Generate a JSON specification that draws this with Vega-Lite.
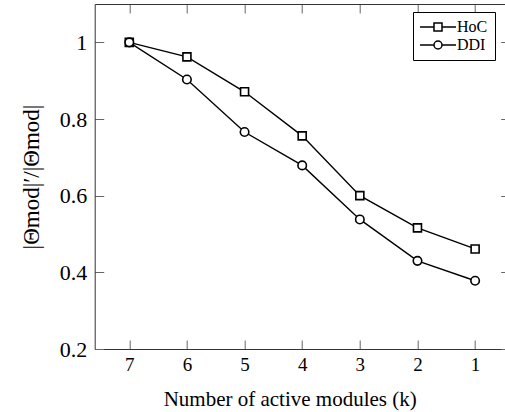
{
  "$schema": "https://vega.github.io/schema/vega-lite/v6.json",
  "autosize": "none",
  "width": 415,
  "height": 345,
  "padding": {"left": 94.7, "top": 4, "right": -4.7, "bottom": 63},
  "config": {
    "font": "Liberation Serif",
    "view": {"stroke": null},
    "axis": {"grid": false, "domainColor": "#333", "domainWidth": 1, "tickColor": "#666", "tickWidth": 1, "labelColor": "black", "titleColor": "black", "titleFontWeight": "normal", "labelFont": "Liberation Serif", "titleFont": "Liberation Serif"},
    "legend": {"labelFont": "Liberation Serif"}
  },
  "data": {
    "values": [
      {"series": "HoC", "k": 7, "ratio": 1.0},
      {"series": "HoC", "k": 6, "ratio": 0.962},
      {"series": "HoC", "k": 5, "ratio": 0.871},
      {"series": "HoC", "k": 4, "ratio": 0.756},
      {"series": "HoC", "k": 3, "ratio": 0.600},
      {"series": "HoC", "k": 2, "ratio": 0.516},
      {"series": "HoC", "k": 1, "ratio": 0.461},
      {"series": "DDI", "k": 7, "ratio": 1.0},
      {"series": "DDI", "k": 6, "ratio": 0.903},
      {"series": "DDI", "k": 5, "ratio": 0.766},
      {"series": "DDI", "k": 4, "ratio": 0.679},
      {"series": "DDI", "k": 3, "ratio": 0.538},
      {"series": "DDI", "k": 2, "ratio": 0.430},
      {"series": "DDI", "k": 1, "ratio": 0.378}
    ]
  },
  "layer": [
    {
      "mark": {"type": "line", "color": "black", "strokeWidth": 1.4},
      "encoding": {
        "x": {
          "field": "k", "type": "quantitative",
          "scale": {"domain": [0.4, 7.6], "reverse": true, "nice": false, "zero": false},
          "axis": {"orient": "bottom", "values": [1, 2, 3, 4, 5, 6, 7], "format": "d", "tickSize": -9, "labelPadding": 15, "labelFont": "Liberation Serif", "labelFontSize": 19, "labelFlush": false, "title": "Number of active modules (k)", "titleFont": "Liberation Serif", "titleFontSize": 21, "titlePadding": 14, "titleX": 195}
        },
        "y": {
          "field": "ratio", "type": "quantitative",
          "scale": {"domain": [0.2, 1.1], "nice": false, "zero": false},
          "axis": {"orient": "left", "values": [0.2, 0.4, 0.6, 0.8, 1.0], "format": ".2~f", "tickSize": -9, "labelPadding": 17, "labelFont": "Liberation Serif", "labelFontSize": 22, "title": "|Θmod|′/|Θmod|", "titleFont": "Liberation Serif", "titleFontSize": 23, "titlePadding": 16}
        },
        "detail": {"field": "series"}
      }
    },
    {
      "mark": {"type": "point", "filled": false, "fill": "white", "stroke": "black", "strokeWidth": 1.6, "opacity": 1},
      "encoding": {
        "x": {
          "field": "k", "type": "quantitative",
          "axis": {"orient": "top", "values": [1, 2, 3, 4, 5, 6, 7], "labels": false, "title": null, "tickSize": -9, "domain": true}
        },
        "y": {
          "field": "ratio", "type": "quantitative",
          "axis": {"orient": "right", "values": [0.2, 0.4, 0.6, 0.8, 1.0], "labels": false, "title": null, "tickSize": -9, "domain": false}
        },
        "shape": {
          "field": "series", "type": "nominal",
          "scale": {"domain": ["HoC", "DDI"], "range": ["square", "circle"]},
          "legend": null
        },
        "size": {
          "field": "series", "type": "nominal",
          "scale": {"domain": ["HoC", "DDI"], "range": [64, 72]},
          "legend": null
        }
      }
    },
    {
      "transform": [{"filter": "datum.k > 100"}],
      "mark": {"type": "point", "filled": false, "color": "black", "strokeWidth": 1.5},
      "encoding": {
        "shape": {
          "field": "series", "type": "nominal",
          "scale": {"domain": ["HoC", "DDI"], "range": [
            "M-1.6,0L1.2,0M2.8,0L5.6,0M1.2,-0.8L2.8,-0.8L2.8,0.8L1.2,0.8Z",
            "M-1.6,0L1.2,0M2.8,0L5.6,0M1.2,0A0.8,0.8,0,1,1,2.8,0A0.8,0.8,0,1,1,1.2,0Z"
          ]},
          "legend": {
            "title": null, "orient": "none", "legendX": 318.3, "legendY": 8,
            "symbolSize": 100, "symbolStrokeColor": "black", "symbolStrokeWidth": 1.5, "symbolFillColor": "white", "symbolOpacity": 1,
            "labelFont": "Liberation Serif", "labelFontSize": 16, "labelOffset": 21, "labelColor": "black", "rowPadding": 2,
            "padding": 7, "strokeColor": "black", "fillColor": "white"
          }
        }
      }
    }
  ],
  "resolve": {"axis": {"x": "independent", "y": "independent"}, "scale": {"shape": "independent", "size": "independent"}}
}
